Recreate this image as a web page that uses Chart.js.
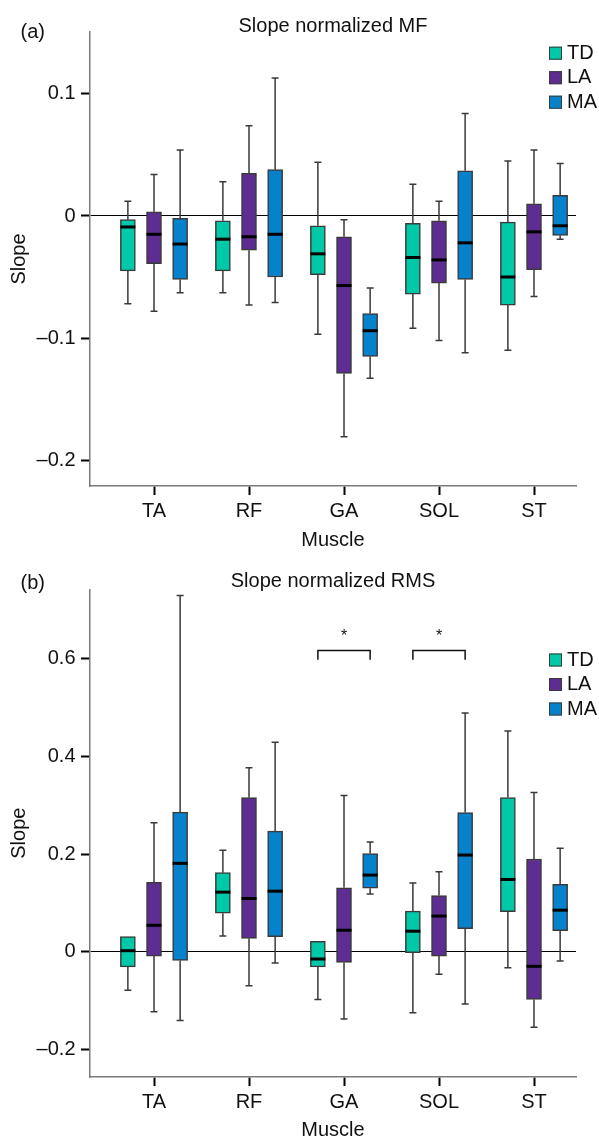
<!DOCTYPE html>
<html>
<head>
<meta charset="utf-8">
<script src="https://cdn.jsdelivr.net/npm/chart.js@4/dist/chart.umd.min.js"></script>
<style>
  body { margin: 0; background: #fff; }
  #wrap { position: relative; width: 599px; height: 1138px; }
  canvas { position: absolute; left: 0; }
  #mfChart { top: 0; }
  #rmsChart { top: 560px; }
</style>
</head>
<body>
<div id="wrap">
  <canvas id="mfChart" width="599" height="560"></canvas>
  <canvas id="rmsChart" width="599" height="578"></canvas>
</div>
<script>
// Categories and groups
const muscles = ["TA", "RF", "GA", "SOL", "ST"];
const groups = ["TD", "LA", "MA"];
const groupColors = ["#00c9aa", "#5e2d91", "#0682cc"];

// Box stats per muscle: [min, q1, median, q3, max]
const mfTD = [[-0.072, -0.045, -0.009, -0.003, 0.012], [-0.063, -0.045, -0.019, -0.004, 0.028], [-0.097, -0.048, -0.031, -0.008, 0.044], [-0.092, -0.064, -0.034, -0.006, 0.026], [-0.110, -0.073, -0.050, -0.005, 0.045]];
const mfLA = [[-0.078, -0.039, -0.015, 0.0035, 0.034], [-0.073, -0.028, -0.017, 0.035, 0.074], [-0.181, -0.129, -0.057, -0.017, -0.003], [-0.102, -0.055, -0.036, -0.004, 0.012], [-0.066, -0.044, -0.013, 0.010, 0.054]];
const mfMA = [[-0.063, -0.052, -0.023, -0.002, 0.054], [-0.071, -0.050, -0.015, 0.038, 0.113], [-0.133, -0.115, -0.094, -0.080, -0.059], [-0.112, -0.052, -0.022, 0.037, 0.084], [-0.019, -0.016, -0.008, 0.017, 0.043]];

const rmsTD = [[-0.079, -0.031, 0.002, 0.031, 0.031], [0.032, 0.079, 0.122, 0.162, 0.208], [-0.098, -0.031, -0.015, 0.021, 0.021], [-0.125, -0.002, 0.042, 0.083, 0.141], [-0.033, 0.082, 0.148, 0.316, 0.452]];
const rmsLA = [[-0.123, -0.009, 0.054, 0.142, 0.264], [-0.070, 0.027, 0.109, 0.316, 0.377], [-0.138, -0.022, 0.044, 0.131, 0.320], [-0.046, -0.009, 0.073, 0.115, 0.164], [-0.155, -0.098, -0.030, 0.190, 0.326]];
const rmsMA = [[-0.141, -0.018, 0.181, 0.286, 0.730], [-0.023, 0.031, 0.124, 0.247, 0.429], [0.118, 0.130, 0.157, 0.201, 0.225], [-0.107, 0.047, 0.198, 0.285, 0.489], [-0.019, 0.043, 0.085, 0.138, 0.212]];

// Tick labels
const mfTicks = [-0.2, -0.1, 0, 0.1];
const rmsTicks = [-0.2, 0, 0.2, 0.4, 0.6];

// Significance brackets (RMS): muscle, bracket level, leg end
const rmsSigMuscles = ["GA", "SOL"];
const rmsSigLevel = 0.617;
const rmsSigDrop = 0.598;

const FONT = "'Liberation Sans', Arial, Helvetica, sans-serif";
const groupOffset = [-0.275, 0, 0.275];

function fmtTick(v) {
  if (v === 0) return "0";
  return (v < 0 ? "\u2013" : "") + Math.abs(v).toString();
}

// whiskers, caps and medians from the dataset stats
const boxExtras = {
  id: "boxExtras",
  afterDatasetsDraw(chart) {
    const ctx = chart.ctx;
    const xs = chart.scales.x, ys = chart.scales.y;
    ctx.save();
    chart.data.datasets.forEach((ds) => {
      ds.stats.forEach((s, i) => {
        const x = xs.getPixelForValue(ds.data[i].x);
        const [mn, q1, md, q3, mx] = s.map(v => ys.getPixelForValue(v));
        ctx.strokeStyle = "#3a3a3a";
        ctx.lineWidth = 1.5;
        ctx.beginPath();
        if (s[4] > s[3]) {
          ctx.moveTo(x, q3); ctx.lineTo(x, mx);
          ctx.moveTo(x - 3.5, mx); ctx.lineTo(x + 3.5, mx);
        }
        if (s[0] < s[1]) {
          ctx.moveTo(x, q1); ctx.lineTo(x, mn);
          ctx.moveTo(x - 3.5, mn); ctx.lineTo(x + 3.5, mn);
        }
        ctx.stroke();
        ctx.strokeStyle = "#000";
        ctx.lineWidth = 3;
        ctx.beginPath();
        ctx.moveTo(x - 7.5, md); ctx.lineTo(x + 7.5, md);
        ctx.stroke();
      });
    });
    ctx.restore();
  }
};

// title, panel tag, legend and brackets
const decor = {
  id: "decor",
  afterDraw(chart, args, o) {
    const ctx = chart.ctx;
    const area = chart.chartArea;
    const xs = chart.scales.x, ys = chart.scales.y;
    ctx.save();
    ctx.fillStyle = "#111";
    ctx.font = "20px " + FONT;
    ctx.textBaseline = "alphabetic";
    ctx.textAlign = "center";
    ctx.fillText(o.title, (area.left + area.right) / 2, o.titleBase);
    ctx.textAlign = "left";
    ctx.fillText(o.tag, 20.5, o.tagBase);

    groups.forEach((g, i) => {
      const y = o.legendTop + i * 24.5;
      ctx.fillStyle = groupColors[i];
      ctx.fillRect(549, y, 13, 13);
      ctx.strokeStyle = "#3a3a3a";
      ctx.lineWidth = 1;
      ctx.strokeRect(549.5, y + 0.5, 12, 12);
      ctx.fillStyle = "#111";
      ctx.textBaseline = "middle";
      ctx.fillText(g, 567, y + 6.5);
    });

    if (o.sig) {
      ctx.strokeStyle = "#111";
      ctx.lineWidth = 1.5;
      o.sig.muscles.forEach(m => {
        const c = muscles.indexOf(m) + 1;
        const x1 = xs.getPixelForValue(c + groupOffset[0]);
        const x2 = xs.getPixelForValue(c + groupOffset[2]);
        const yl = ys.getPixelForValue(o.sig.level);
        const yd = ys.getPixelForValue(o.sig.drop);
        ctx.beginPath();
        ctx.moveTo(x1, yd); ctx.lineTo(x1, yl); ctx.lineTo(x2, yl); ctx.lineTo(x2, yd);
        ctx.stroke();
        ctx.font = "16px " + FONT;
        ctx.textAlign = "center";
        ctx.textBaseline = "alphabetic";
        ctx.fillText("*", (x1 + x2) / 2, yl - 9.3);
      });
    }
    ctx.restore();
  }
};

function makePanel(id, p) {
  const datasets = groups.map((g, gi) => ({
    label: g,
    stats: p.stats[gi],
    data: p.stats[gi].map((s, i) => ({ x: i + 1 + groupOffset[gi], y: [s[1], s[3]] })),
    backgroundColor: groupColors[gi],
    borderColor: "#3a3a3a",
    borderWidth: 1.5,
    borderSkipped: false,
    barThickness: 15,
    grouped: false
  }));

  return new Chart(document.getElementById(id), {
    type: "bar",
    data: { datasets },
    options: {
      responsive: false,
      animation: false,
      devicePixelRatio: 1,
      layout: { padding: { top: p.padTop, right: 23, left: 0, bottom: 0 } },
      plugins: {
        legend: { display: false },
        tooltip: { enabled: false },
        decor: p.decor
      },
      scales: {
        x: {
          type: "linear",
          min: 0.3263,
          max: 5.442,
          offset: false,
          afterBuildTicks: s => { s.ticks = muscles.map((m, i) => ({ value: i + 1 })); },
          afterFit: s => { s.height = p.xHeight; },
          ticks: {
            callback: v => muscles[v - 1],
            font: { family: FONT, size: 20 },
            color: "#111",
            padding: 4.5,
            maxRotation: 0
          },
          grid: { offset: false, drawOnChartArea: false, tickColor: "#000", tickWidth: 2, tickLength: 9 },
          border: { color: "#7a7a7a", width: 1.5 },
          title: {
            display: true,
            text: "Muscle",
            font: { family: FONT, size: 20, lineHeight: 1 },
            color: "#111",
            padding: { top: 0, bottom: p.xTitlePad }
          }
        },
        y: {
          min: p.yMin,
          max: p.yMax,
          afterBuildTicks: s => { s.ticks = p.ticks.map(v => ({ value: v })); },
          afterFit: s => { s.width = 90; },
          ticks: {
            callback: v => fmtTick(v),
            font: { family: FONT, size: 20 },
            color: "#111",
            padding: 5.5
          },
          grid: {
            color: c => (c.tick && c.tick.value === 0 ? "#000" : "rgba(0,0,0,0)"),
            lineWidth: 1,
            tickColor: "#000",
            tickWidth: 2,
            tickLength: 9
          },
          border: { color: "#7a7a7a", width: 1.5 },
          title: {
            display: true,
            text: "Slope",
            font: { family: FONT, size: 20 },
            color: "#111",
            padding: { top: 7, bottom: 0 }
          }
        }
      }
    },
    plugins: [boxExtras, decor]
  });
}

makePanel("mfChart", {
  stats: [mfTD, mfLA, mfMA],
  ticks: mfTicks,
  yMin: -0.2213, yMax: 0.1508,
  padTop: 32, xHeight: 74, xTitlePad: 9.8,
  decor: { title: "Slope normalized MF", tag: "(a)", titleBase: 31.5, tagBase: 37.5, legendTop: 46.7 }
});

makePanel("rmsChart", {
  stats: [rmsTD, rmsLA, rmsMA],
  ticks: rmsTicks,
  yMin: -0.2568, yMax: 0.7426,
  padTop: 29.3, xHeight: 61, xTitlePad: -2,
  decor: {
    title: "Slope normalized RMS", tag: "(b)", titleBase: 26.7, tagBase: 29, legendTop: 93.5,
    sig: { muscles: rmsSigMuscles, level: rmsSigLevel, drop: rmsSigDrop }
  }
});
</script>
</body>
</html>
